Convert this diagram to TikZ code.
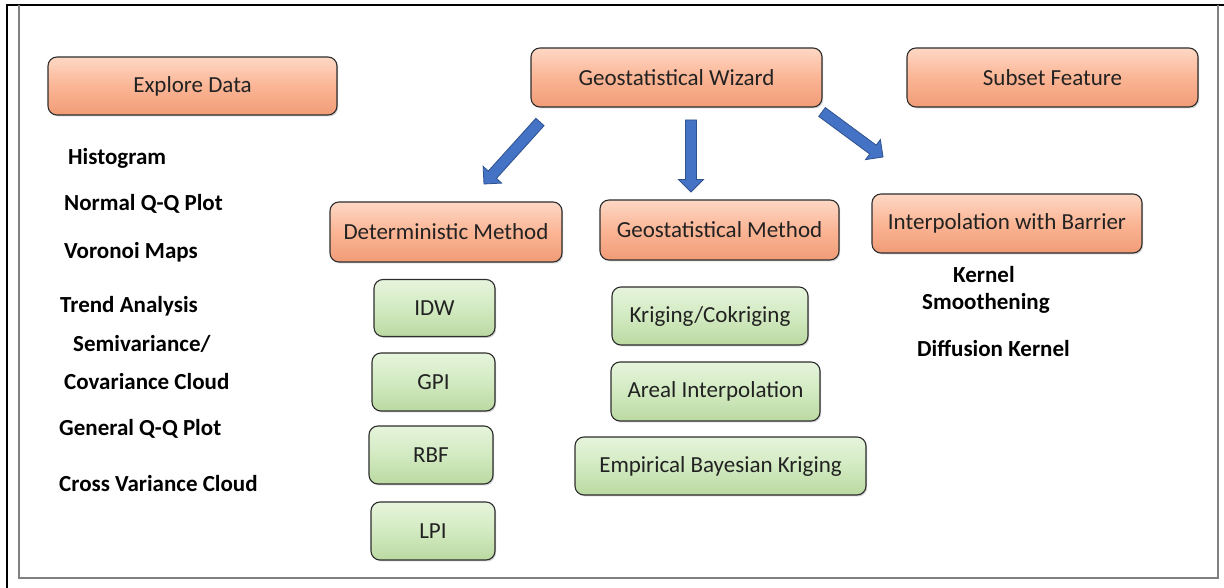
\documentclass[tikz,border=0pt]{standalone}
\usepackage{fontspec}
\setmainfont{Carlito}
\usetikzlibrary{calc,shadows}
\definecolor{orTop}{HTML}{FDD8C5}
\definecolor{orMid}{HTML}{FBB595}
\definecolor{orBot}{HTML}{F09C76}
\definecolor{grTop}{HTML}{E6F4DC}
\definecolor{grMid}{HTML}{D2EAC1}
\definecolor{grBot}{HTML}{BBD9A2}
\definecolor{boxline}{HTML}{2E2E2E}
\definecolor{boxtext}{HTML}{222222}
\definecolor{arrowfill}{HTML}{4472C4}
\definecolor{arrowline}{HTML}{2F528F}
\definecolor{framegray}{HTML}{808080}
\newcommand\myblockarrow[2]{%
  \filldraw[fill=arrowfill, draw=arrowline, line width=0.8pt]
    let \p1=($(#2)-(#1)$), \n1={atan2(\y1,\x1)} in
    ($(#1)+(\n1+90:5.5pt)$) --
    ($(#2)+(\n1:-12.5pt)+(\n1+90:5.5pt)$) --
    ($(#2)+(\n1:-12.5pt)+(\n1+90:12.5pt)$) --
    (#2) --
    ($(#2)+(\n1:-12.5pt)+(\n1-90:12.5pt)$) --
    ($(#2)+(\n1:-12.5pt)+(\n1-90:5.5pt)$) --
    ($(#1)+(\n1-90:5.5pt)$) -- cycle;}
\tikzset{
  basebox/.style={rounded corners=9pt, draw=boxline, line width=1.1pt,
    inner sep=0pt, text=boxtext, font=\fontsize{23}{27}\selectfont,
    drop shadow={opacity=0.35, shadow xshift=1.2pt, shadow yshift=-1.5pt}},
  orbox/.style={basebox, top color=orTop, bottom color=orBot, middle color=orMid},
  grbox/.style={basebox, top color=grTop, bottom color=grBot, middle color=grMid},
  lbl/.style={anchor=base west, inner sep=0pt, font=\fontsize{23}{27}\selectfont\bfseries},
}
\begin{document}
\begin{tikzpicture}[x=1pt,y=1pt]
\useasboundingbox (0,0) rectangle (1224,588);
\fill[white] (0,0) rectangle (1224,588);
% frames
\draw[black, line width=2pt] (7,0) -- (7,583) -- (1224,583);
\draw[framegray, line width=2pt] (19,583) -- (19,10) -- (1218,10) -- (1218,583);
% top row
\node[orbox, minimum width=289pt, minimum height=58pt] (explore) at (192.5,502) {Explore Data};
\node[orbox, minimum width=291pt, minimum height=59pt] (wizard) at (676.5,510.5) {Geostatistical Wizard};
\node[orbox, minimum width=291pt, minimum height=59pt] (subset) at (1052.5,510.5) {Subset Feature};
% methods
\node[orbox, minimum width=232pt, minimum height=60pt] (determ) at (446,356) {Deterministic Method};
\node[orbox, minimum width=239pt, minimum height=60pt] (geostat) at (719.5,358) {Geostatistical Method};
\node[orbox, minimum width=270pt, minimum height=59pt] (barrier) at (1007,364.5) {Interpolation with Barrier};
% deterministic children
\node[grbox, minimum width=121pt, minimum height=57pt] (idw) at (434.5,280) {IDW};
\node[grbox, minimum width=123pt, minimum height=58pt] (gpi) at (433.5,206) {GPI};
\node[grbox, minimum width=124pt, minimum height=58pt] (rbf) at (431,133) {RBF};
\node[grbox, minimum width=124pt, minimum height=58pt] (lpi) at (433,57) {LPI};
% geostatistical children
\node[grbox, minimum width=196pt, minimum height=58pt] (krig) at (710,272) {Kriging/Cokriging};
\node[grbox, minimum width=209pt, minimum height=59pt] (areal) at (715.5,196.5) {Areal Interpolation};
\node[grbox, minimum width=291pt, minimum height=58pt] (ebk) at (720.5,122) {Empirical Bayesian Kriging};
% explore data labels
\node[lbl] (hist) at (68,423) {Histogram};
\node[lbl] (nqq) at (64,377) {Normal Q-Q Plot};
\node[lbl] (vor) at (64,329) {Voronoi Maps};
\node[lbl] (trend) at (60,275) {Trend Analysis};
\node[lbl] (semi) at (73,236) {Semivariance/};
\node[lbl] (cov) at (64,198) {Covariance Cloud};
\node[lbl] (gqq) at (59,152) {General Q-Q Plot};
\node[lbl] (cross) at (59,96) {Cross Variance Cloud};
% barrier labels
\node[lbl] (kern) at (953,305) {Kernel};
\node[lbl] (smooth) at (922,278) {Smoothening};
\node[lbl] (diff) at (917,231) {Diffusion Kernel};
% arrows
\coordinate (aLs) at (540,466);
\coordinate (aLe) at (484,404);
\coordinate (aMs) at (691,468);
\coordinate (aMe) at (691,396);
\coordinate (aRs) at (822,476);
\coordinate (aRe) at (883,431);
\myblockarrow{aLs}{aLe}
\myblockarrow{aMs}{aMe}
\myblockarrow{aRs}{aRe}
\end{tikzpicture}
\end{document}
